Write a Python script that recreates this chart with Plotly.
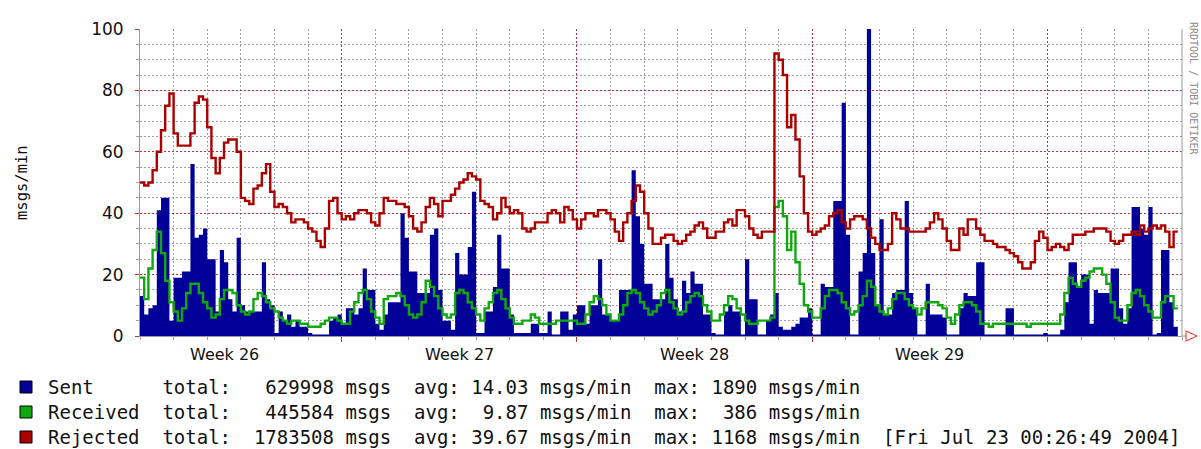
import plotly.graph_objects as go
import pandas as pd

# ---------------- data (3-hour steps starting 2004-06-22 00:00) ----------------
start_time = "2004-06-22 00:00"
end_time = "2004-07-23 00:00"
step = "3h"

sent = [
    13, 7, 9, 10, 41, 45, 45, 5,
    19, 19, 21, 21, 56, 32, 33, 35,
    25, 25, 8, 28, 24, 12, 8, 32,
    10, 8, 8, 8, 8, 24, 12, 10,
    1, 8, 5, 7, 3, 5, 3, 3,
    1, 0.5, 0.5, 0.5, 0.5, 5, 6, 7,
    4, 9, 9, 7, 9, 22, 15, 15,
    4, 2, 7, 11, 11, 11, 40, 32,
    21, 21, 14, 14, 14, 33, 35, 15,
    5, 5, 2, 27, 20, 20, 29, 47,
    1, 1, 8, 8, 16, 33, 22, 22,
    7, 1, 1, 1, 1, 4, 4, 1,
    1, 8, 0.5, 0.5, 8, 8, 2, 7,
    10, 10, 4, 10, 10, 25, 7, 7,
    5, 5, 15, 15, 15, 54, 39, 30,
    17, 17, 12, 12, 12, 30, 19, 12,
    8, 18, 14, 21, 17, 17, 7, 7,
    1, 0.5, 0.5, 8, 10, 8, 8, 0.5,
    25, 12, 12, 0.5, 0.5, 5, 7, 14,
    3, 2, 2, 3, 4, 6, 6, 9,
    0.5, 0.5, 17, 16, 16, 44, 44, 76,
    33, 0.5, 0.5, 21, 27, 101, 27, 10,
    38, 7, 7, 14, 15, 15, 44, 14,
    9, 0.5, 0.5, 17, 7, 7, 7, 6,
    0.5, 0.5, 0.5, 9, 14, 13, 13, 24,
    24, 0.5, 0.5, 0.5, 0.5, 0.5, 9, 9,
    0.5, 0.5, 0.5, 0.5, 0.5, 0.5, 0.5, 1,
    0.5, 0.5, 0.5, 2, 11, 24, 24, 16,
    20, 20, 4, 15, 14, 14, 14, 22,
    22, 9, 4, 9, 42, 42, 35, 33,
    42, 0.5, 1, 28, 28, 11, 3,
]

received = [
    19, 12, 22, 28, 34, 27, 18, 11,
    8, 5, 9, 14, 17, 17, 14, 11,
    9, 6, 7, 12, 15, 15, 14, 10,
    8, 7, 8, 12, 14, 13, 11, 9,
    8, 6, 5, 4, 5, 5, 4, 4,
    3, 3, 3, 4, 5, 6, 6, 5,
    4, 4, 8, 11, 14, 15, 12, 8,
    6, 4, 12, 13, 13, 14, 13, 10,
    7, 6, 7, 11, 18, 16, 13, 9,
    7, 6, 7, 14, 15, 14, 11, 9,
    7, 5, 9, 11, 14, 15, 12, 9,
    6, 4, 4, 5, 5, 7, 6, 4,
    4, 4, 4, 5, 5, 5, 5, 5,
    4, 4, 7, 11, 13, 12, 10, 7,
    5, 5, 7, 10, 14, 15, 14, 11,
    9, 7, 8, 10, 14, 15, 11, 9,
    7, 8, 11, 13, 14, 13, 10, 8,
    5, 5, 7, 10, 13, 12, 9, 7,
    5, 4, 4, 5, 5, 5, 6, 42,
    44, 39, 28, 34, 24, 17, 10, 8,
    6, 6, 9, 13, 15, 15, 14, 11,
    9, 7, 8, 10, 13, 18, 16, 10,
    8, 7, 9, 12, 14, 14, 12, 10,
    9, 7, 9, 11, 11, 11, 10, 9,
    6, 4, 7, 10, 11, 11, 10, 8,
    4, 4, 3, 4, 4, 4, 4, 4,
    4, 4, 4, 3, 4, 4, 4, 4,
    4, 4, 4, 7, 14, 19, 17, 16,
    18, 19, 21, 22, 22, 20, 17, 11,
    6, 5, 5, 10, 14, 15, 13, 10,
    8, 6, 6, 11, 13, 13, 9,
]

rejected = [
    50, 49, 50, 54, 60, 67, 75, 79,
    66, 62, 62, 62, 66, 76, 78, 77,
    68, 58, 53, 58, 63, 64, 64, 60,
    45, 44, 43, 48, 49, 53, 56, 47,
    42, 43, 42, 40, 37, 38, 38, 37,
    35, 34, 31, 29, 35, 44, 45, 40,
    38, 39, 38, 40, 41, 41, 40, 37,
    36, 40, 45, 44, 44, 43, 43, 42,
    39, 35, 34, 37, 42, 45, 43, 39,
    44, 44, 46, 48, 50, 51, 53, 52,
    51, 44, 43, 42, 38, 40, 45, 42,
    40, 41, 40, 35, 34, 35, 37, 37,
    37, 40, 41, 40, 37, 42, 41, 38,
    35, 38, 40, 40, 39, 41, 41, 40,
    38, 34, 31, 37, 40, 44, 49, 47,
    40, 35, 30, 30, 32, 33, 33, 31,
    30, 31, 33, 34, 36, 37, 35, 32,
    32, 34, 34, 37, 38, 36, 41, 41,
    39, 35, 33, 32, 34, 34, 34, 92,
    90, 85, 68, 72, 64, 52, 40, 34,
    33, 34, 35, 36, 39, 40, 41, 37,
    35, 38, 39, 39, 38, 35, 32, 30,
    28, 28, 30, 40, 38, 35, 35, 34,
    34, 34, 34, 35, 37, 40, 38, 35,
    31, 28, 28, 35, 33, 38, 38, 35,
    33, 31, 31, 30, 29, 29, 28, 27,
    26, 24, 22, 22, 24, 31, 34, 32,
    28, 29, 30, 29, 28, 30, 33, 33,
    33, 34, 34, 35, 35, 35, 34, 31,
    30, 31, 33, 33, 34, 33, 36, 34,
    35, 36, 35, 36, 34, 29, 34,
]

y_ticks = [0, 20, 40, 60, 80, 100]
week_labels = ["Week 26", "Week 27", "Week 28", "Week 29"]
week_label_dates = ["2004-06-24 12:00", "2004-07-01 12:00", "2004-07-08 12:00", "2004-07-15 12:00"]
week_starts = ["2004-06-28", "2004-07-05", "2004-07-12", "2004-07-19"]

legend_names = ["Sent", "Received", "Rejected"]
legend_totals = [629998, 445584, 1783508]
legend_avgs = [14.03, 9.87, 39.67]
legend_maxs = [1890, 386, 1168]
stamp = "[Fri Jul 23 00:26:49 2004]"

# ---------------- styling ----------------
BLUE = "#000099"
GREEN = "#10a810"
RED = "#aa0000"
MAJOR = "#b03a3a"
MINOR = "#a0a0a0"
AXIS = "#9a9a9a"
legend_colors = [BLUE, GREEN, RED]

n = len(rejected)
xs = list(pd.date_range(start_time, periods=n + 1, freq=step))
days = list(pd.date_range(start_time, end_time, freq="1D"))


def ext(v):
    return list(v) + [v[-1]]


fig = go.Figure()
fig.add_trace(go.Scatter(x=xs, y=ext(sent), mode="lines",
                         line=dict(width=0, shape="hv", color=BLUE),
                         fill="tozeroy", fillcolor=BLUE, hoverinfo="skip"))
fig.add_trace(go.Scatter(x=xs, y=ext(received), mode="lines",
                         line=dict(width=2.4, shape="hv", color=GREEN), hoverinfo="skip"))
fig.add_trace(go.Scatter(x=xs, y=ext(rejected), mode="lines",
                         line=dict(width=2.4, shape="hv", color=RED), hoverinfo="skip"))

W, H = 1201, 449
PL, PR, PT, PB = 140, 1182, 29, 336


def px(v):
    return (v - PL) / (PR - PL)


def py(v):
    return (PB - v) / (PB - PT)


DOT = "2px,2px"
fig.update_layout(
    width=W, height=H,
    margin=dict(l=PL, r=W - PR, t=PT, b=H - PB, pad=0, autoexpand=False),
    paper_bgcolor="white", plot_bgcolor="white", showlegend=False,
    xaxis=dict(type="date", range=[start_time, end_time], tickmode="array",
               tickvals=week_starts, showticklabels=False,
               showgrid=True, gridcolor=MAJOR, griddash=DOT, gridwidth=1,
               ticks="outside", ticklen=5, tickcolor=MAJOR,
               minor=dict(tickmode="array", tickvals=days, showgrid=True,
                          gridcolor=MINOR, griddash=DOT, ticks="outside",
                          ticklen=3, tickcolor=MINOR),
               showline=True, linecolor=AXIS, linewidth=1, zeroline=False,
               automargin=False, fixedrange=True),
    yaxis=dict(range=[0, 100], tickmode="array", tickvals=y_ticks,
               ticktext=[str(v) for v in y_ticks],
               showgrid=True, gridcolor=MAJOR, griddash=DOT, gridwidth=1,
               minor=dict(tickmode="linear", tick0=0, dtick=5, showgrid=True,
                          gridcolor=MINOR, griddash=DOT, ticks="outside",
                          ticklen=3, tickcolor=MINOR),
               ticks="outside", ticklen=4, tickcolor=MAJOR,
               tickfont=dict(family="DejaVu Sans", size=17, color="#111"),
               ticklabelstandoff=8,
               showline=True, linecolor=AXIS, linewidth=1, zeroline=False,
               automargin=False, fixedrange=True),
)

shapes = []
# right border line
shapes.append(dict(type="line", xref="paper", yref="paper", x0=1, x1=1, y0=0, y1=1,
                   line=dict(color=AXIS, width=1)))
# axis arrow at right end
shapes.append(dict(type="line", xref="paper", yref="paper", x0=1, x1=px(1188), y0=0, y1=0,
                   line=dict(color=AXIS, width=1)))
shapes.append(dict(type="path", xref="paper", yref="paper",
                   path=f"M {px(1186)},{py(331)} L {px(1197)},{py(336)} L {px(1186)},{py(341)} Z",
                   line=dict(color="#ff2020", width=1), fillcolor="white"))
# legend colour boxes
for i, c in enumerate(legend_colors):
    yc = 387 + 25 * i
    shapes.append(dict(type="rect", xref="paper", yref="paper",
                       x0=px(20), x1=px(32), y0=py(yc - 6), y1=py(yc + 6),
                       line=dict(color="black", width=1), fillcolor=c))
fig.update_layout(shapes=shapes)

ann = []
ann.append(dict(text="msgs/min", xref="paper", yref="paper", x=px(22), y=py(183),
                textangle=-90, showarrow=False, xanchor="center", yanchor="middle",
                font=dict(family="DejaVu Sans Mono", size=15.5, color="#111")))
for lab, d in zip(week_labels, week_label_dates):
    ann.append(dict(text=lab, xref="x", yref="paper", x=d, y=0, yanchor="top",
                    xanchor="center", yshift=-7, showarrow=False,
                    font=dict(family="DejaVu Sans", size=16, color="#111")))
for i, name in enumerate(legend_names):
    line = (f"{name:<10}total: {legend_totals[i]:>8} msgs  "
            f"avg: {legend_avgs[i]:>5.2f} msgs/min  max: {legend_maxs[i]:>4} msgs/min")
    if i == len(legend_names) - 1:
        line += "  " + stamp
    ann.append(dict(text=line.replace(" ", "\u00a0"), xref="paper", yref="paper",
                    x=px(46), y=py(387 + 25 * i), xanchor="left", yanchor="middle",
                    showarrow=False,
                    font=dict(family="DejaVu Sans Mono", size=19, color="#111")))
ann.append(dict(text="RRDTOOL / TOBI OETIKER", xref="paper", yref="paper",
                x=px(1194), y=py(88), textangle=90, showarrow=False,
                xanchor="center", yanchor="middle",
                font=dict(family="DejaVu Sans Mono", size=10, color="#8a8a8a")))
fig.update_layout(annotations=ann)

fig.write_html("out.html",
               config={"displayModeBar": False, "staticPlot": True},
               post_script="document.body.style.margin='0';document.body.style.padding='0';"
                           "document.documentElement.style.overflow='hidden';")
